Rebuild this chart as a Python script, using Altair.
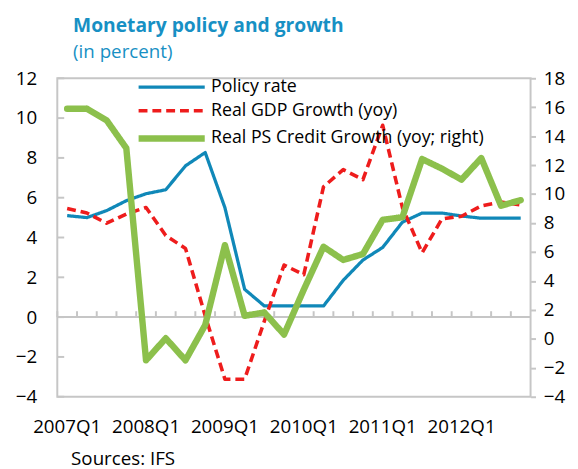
import altair as alt
import pandas as pd

quarters = ["2007Q1", "2007Q2", "2007Q3", "2007Q4",
            "2008Q1", "2008Q2", "2008Q3", "2008Q4",
            "2009Q1", "2009Q2", "2009Q3", "2009Q4",
            "2010Q1", "2010Q2", "2010Q3", "2010Q4",
            "2011Q1", "2011Q2", "2011Q3", "2011Q4",
            "2012Q1", "2012Q2", "2012Q3", "2012Q4"]
label_quarters = ["2007Q1", "2008Q1", "2009Q1", "2010Q1", "2011Q1", "2012Q1"]

policy_rate = [5.1, 5.0, 5.35, 5.85, 6.2, 6.4, 7.6, 8.27, 5.5, 1.4, 0.56, 0.56,
               0.56, 0.56, 1.85, 2.87, 3.5, 4.77, 5.23, 5.23, 5.08, 4.97, 4.97, 4.97]
gdp_growth = [5.46, 5.23, 4.72, 5.18, 5.51, 4.1, 3.45, 0.07, -3.12, -3.12, -0.2, 2.62,
              2.13, 6.55, 7.41, 6.91, 9.64, 5.51, 3.23, 4.93, 5.07, 5.59, 5.79, 5.63]
credit_growth = [15.9, 15.9, 15.1, 13.17, -1.48, 0.04, -1.48, 0.95, 6.47, 1.59, 1.82, 0.3,
                 3.4, 6.36, 5.45, 5.86, 8.22, 8.4, 12.42, 11.76, 11.0, 12.49, 9.2, 9.58]

series_names = ["Policy rate", "Real GDP Growth (yoy)", "Real PS Credit Growth  (yoy; right)"]
series_colors = ["#1088b8", "#ee1c1c", "#8cc04c"]
series_dash = [[1, 0], [9, 5], [1, 0]]
series_width = [3.3, 3.6, 6.5]

left_ticks = [-4, -2, 0, 2, 4, 6, 8, 10, 12]
right_ticks = [-4, -2, 0, 2, 4, 6, 8, 10, 12, 14, 16, 18]

FONT = "Open Sans"
GREY = "#c6c6c6"

left_df = pd.DataFrame({
    "quarter": quarters * 2,
    "value": policy_rate + gdp_growth,
    "series": [series_names[0]] * len(quarters) + [series_names[1]] * len(quarters),
})
right_df = pd.DataFrame({
    "quarter": quarters,
    "value": credit_growth,
    "series": [series_names[2]] * len(quarters),
})
lt_df = pd.DataFrame({"v": left_ticks})
q_df = pd.DataFrame({"quarter": quarters})
src_df = pd.DataFrame({"t": ["Sources: IFS"]})

xscale = alt.Scale(type="band", domain=quarters, paddingInner=0, paddingOuter=0)
xaxis = alt.Axis(title=None, ticks=False, tickSize=0, domain=False, labelAngle=0,
                 values=label_quarters, labelFontSize=19, labelFont=FONT,
                 labelColor="black", labelPadding=21, grid=False)
yl_scale = alt.Scale(domain=[-4, 12], nice=False, zero=False)
yl_axis = alt.Axis(title=None, values=left_ticks, ticks=False, domain=False, grid=False,
                   labelFontSize=19, labelFont=FONT, labelColor="black", labelPadding=21)
yr_scale = alt.Scale(domain=[-4, 18], nice=False, zero=False)
yr_axis = alt.Axis(title=None, orient="right", values=right_ticks, ticks=True, tickSize=5,
                   tickColor=GREY, tickWidth=2, domain=False, grid=False,
                   labelFontSize=19, labelFont=FONT, labelColor="black", labelPadding=8)

legend = alt.Legend(orient="none", legendX=106, legendY=0, title=None,
                    symbolType="M-5,0H5", symbolSize=180,
                    labelFontSize=18, labelFont=FONT, labelColor="black",
                    labelOffset=30, rowPadding=6, labelLimit=400)

color = alt.Color("series:N", scale=alt.Scale(domain=series_names, range=series_colors), legend=legend)
dash = alt.StrokeDash("series:N", scale=alt.Scale(type="ordinal", domain=series_names, range=series_dash), legend=legend)
width = alt.StrokeWidth("series:N", scale=alt.Scale(type="ordinal", domain=series_names, range=series_width), legend=legend)

zero_rule = alt.Chart(q_df).mark_rule(color=GREY, strokeWidth=2).encode(
    y=alt.YDatum(0, scale=yl_scale, axis=yl_axis)
)
x_ticks = alt.Chart(q_df).mark_rule(color=GREY, strokeWidth=2, y2Offset=-6).encode(
    x=alt.X("quarter:N", scale=xscale, axis=xaxis, bandPosition=0),
    y=alt.YDatum(0, scale=yl_scale, axis=yl_axis),
    y2=alt.datum(0),
)
left_inner_ticks = alt.Chart(lt_df).mark_rule(color=GREY, strokeWidth=2).encode(
    y=alt.Y("v:Q", scale=yl_scale, axis=yl_axis),
    x=alt.value(0),
    x2=alt.value(7),
)
left_lines = alt.Chart(left_df).mark_line(strokeCap="butt", strokeJoin="round").encode(
    x=alt.X("quarter:N", scale=xscale, axis=xaxis, sort=quarters),
    y=alt.Y("value:Q", scale=yl_scale, axis=yl_axis),
    color=color, strokeDash=dash, strokeWidth=width,
)
left_group = alt.layer(zero_rule, x_ticks, left_inner_ticks, left_lines)

right_lines = alt.Chart(right_df).mark_line(strokeCap="round", strokeJoin="round").encode(
    x=alt.X("quarter:N", scale=xscale, axis=xaxis, sort=quarters),
    y=alt.Y("value:Q", scale=yr_scale, axis=yr_axis),
    color=color, strokeDash=dash, strokeWidth=width,
)

sources = alt.Chart(src_df).mark_text(align="left", baseline="alphabetic", fontSize=19,
                                      font=FONT, color="black").encode(
    x=alt.value(14), y=alt.value(392), text="t:N"
)

chart = alt.layer(left_group, right_lines, sources).resolve_scale(
    y="independent"
).properties(
    width=480, height=323,
    title=alt.Title("Monetary policy and growth", subtitle="(in percent)",
                    anchor="start", frame="group", dx=16, offset=7,
                    font=FONT, fontSize=19.5, fontWeight="bold", color="#1790c4",
                    subtitleFont=FONT, subtitleFontSize=19, subtitleColor="#1790c4",
                    subtitlePadding=6),
    autosize=alt.AutoSizeParams(type="none"),
    padding={"left": 50, "top": 68, "right": 40, "bottom": 70},
).configure_view(stroke=GREY, strokeWidth=2)

chart.save("out.html", embed_options={"renderer": "svg", "actions": False})
